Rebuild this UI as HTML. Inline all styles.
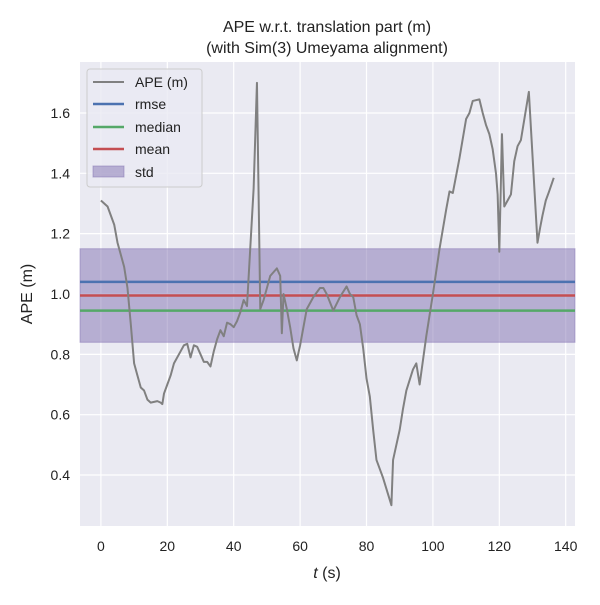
<!DOCTYPE html>
<html><head><meta charset="utf-8"><style>
body{margin:0;background:#fff;font-family:"Liberation Sans","DejaVu Sans",sans-serif;}
</style></head><body>
<svg width="600" height="600" id="chart" font-family="Liberation Sans, DejaVu Sans, sans-serif">
<text x="327" y="32" text-anchor="middle" font-size="16" fill="#222">APE w.r.t. translation part (m)</text>
<text x="327" y="53" text-anchor="middle" font-size="16" fill="#222">(with Sim(3) Umeyama alignment)</text>
<rect x="80" y="62" width="495" height="464" fill="#eaeaf2"/>
<g id="grid"></g><g id="marks"></g><g id="ticks"></g>
<text x="327" y="578" text-anchor="middle" font-size="16" fill="#222"><tspan font-style="italic">t</tspan> (s)</text>
<text transform="translate(32,294) rotate(-90)" text-anchor="middle" font-size="16" fill="#222">APE (m)</text>
<g>
<rect x="87" y="69" width="115" height="118" rx="3" fill="#eaeaf2" fill-opacity="0.8" stroke="#ccc"/>
<line x1="93" y1="82" x2="124" y2="82" stroke="#808080" stroke-width="2"/>
<text x="135" y="87" font-size="14" fill="#222">APE (m)</text>
<line x1="93" y1="104" x2="124" y2="104" stroke="#4c72b0" stroke-width="2.5"/>
<text x="135" y="109" font-size="14" fill="#222">rmse</text>
<line x1="93" y1="127" x2="124" y2="127" stroke="#55a868" stroke-width="2.5"/>
<text x="135" y="132" font-size="14" fill="#222">median</text>
<line x1="93" y1="149" x2="124" y2="149" stroke="#c44e52" stroke-width="2.5"/>
<text x="135" y="154" font-size="14" fill="#222">mean</text>
<rect x="93" y="166" width="31" height="11" fill="#8172b2" fill-opacity="0.5" stroke="#8172b2" stroke-opacity="0.5"/>
<text x="135" y="177" font-size="14" fill="#222">std</text>
</g>
</svg>
<script>
const times=[0,2,4,5,7,8,9,10,11,12,13,14,15,17,18,18.5,19,20,21,22,24,25,26,27,28,29,30,31,32,33,34,35,36,37,38,39,40,41,42,43,44,46,47,48,49,50,51,53,54,54.5,55,56,57,58,59,60,62,64,66,67,68,70,72,74,75,76,77,78,79,80,81,82,83,85,87.5,88,89,90,91,92,94,95,96,97,98,100,102,104,105,106,108,110,111,112,114,115,116,117,118,119,119.5,120,120.8,121.5,122.5,123.5,124.5,125.5,126.5,128.9,131.5,132.3,133,134,135,136.4];
const ape=[1.31,1.29,1.23,1.17,1.09,1.02,0.9,0.77,0.73,0.69,0.68,0.65,0.64,0.645,0.64,0.635,0.67,0.7,0.73,0.77,0.81,0.83,0.835,0.79,0.83,0.825,0.8,0.775,0.775,0.76,0.81,0.85,0.88,0.86,0.905,0.9,0.89,0.91,0.94,0.98,0.96,1.35,1.70,0.95,0.98,1.02,1.06,1.085,1.06,0.87,1.0,0.95,0.89,0.82,0.78,0.83,0.95,0.99,1.02,1.02,1.0,0.945,0.99,1.025,1.0,0.99,0.93,0.9,0.82,0.72,0.66,0.55,0.45,0.39,0.3,0.45,0.5,0.55,0.62,0.68,0.75,0.77,0.7,0.78,0.86,1.0,1.15,1.28,1.34,1.335,1.45,1.58,1.6,1.64,1.645,1.6,1.56,1.53,1.48,1.40,1.33,1.14,1.53,1.29,1.31,1.33,1.44,1.49,1.51,1.67,1.17,1.22,1.26,1.31,1.34,1.385];
const statNames=["rmse","mean","median"];
const statValues=[1.04,0.995,0.945];
const statColors=["#4c72b0","#c44e52","#55a868"];
const stdRange=[0.84,1.15];
const xTicks=[0,20,40,60,80,100,120,140];
const yTicks=[0.4,0.6,0.8,1.0,1.2,1.4,1.6];
const X0=80,X1=575,Y0=62,Y1=526,tmin=-6.3,tmax=142.8,vmin=0.231,vmax=1.769;
const sx=t=>X0+(t-tmin)/(tmax-tmin)*(X1-X0);
const sy=v=>Y1-(v-vmin)/(vmax-vmin)*(Y1-Y0);
const NS="http://www.w3.org/2000/svg";
function mk(tag,attrs,parent){const e=document.createElementNS(NS,tag);for(const k in attrs)e.setAttribute(k,attrs[k]);document.getElementById(parent).appendChild(e);return e;}
xTicks.forEach(t=>{
 const l=mk('line',{x1:sx(t),x2:sx(t),y1:Y0,y2:Y1,stroke:'#fff','stroke-width':1.2},'grid');
 
 
 const tx=mk('text',{x:sx(t),y:Y1+25,'text-anchor':'middle','font-size':14,fill:'#222'},'ticks');tx.textContent=t;
 
 
});
yTicks.forEach(v=>{
 const l=mk('line',{x1:X0,x2:X1,y1:sy(v),y2:sy(v),stroke:'#fff','stroke-width':1.2},'grid');
 
 
 const tx=mk('text',{x:X0-10,y:sy(v)+5,'text-anchor':'end','font-size':14,fill:'#222'},'ticks');tx.textContent=v.toFixed(1);
 
 
});
const band=mk('rect',{x:X0,width:X1-X0,y:sy(stdRange[1]),height:sy(stdRange[0])-sy(stdRange[1]),fill:'#8172b2','fill-opacity':0.5,stroke:'#8172b2','stroke-opacity':0.5},'marks');


statValues.forEach((v,i)=>{
 const l=mk('line',{x1:X0,x2:X1,y1:sy(v),y2:sy(v),stroke:statColors[i],'stroke-width':2.5},'marks');
 
 
});
const p=mk('polyline',{points:times.map((t,i)=>sx(t)+','+sy(ape[i])).join(' '),fill:'none',stroke:'#808080','stroke-width':2,'stroke-linejoin':'round'},'marks');


</script>
</body></html>
